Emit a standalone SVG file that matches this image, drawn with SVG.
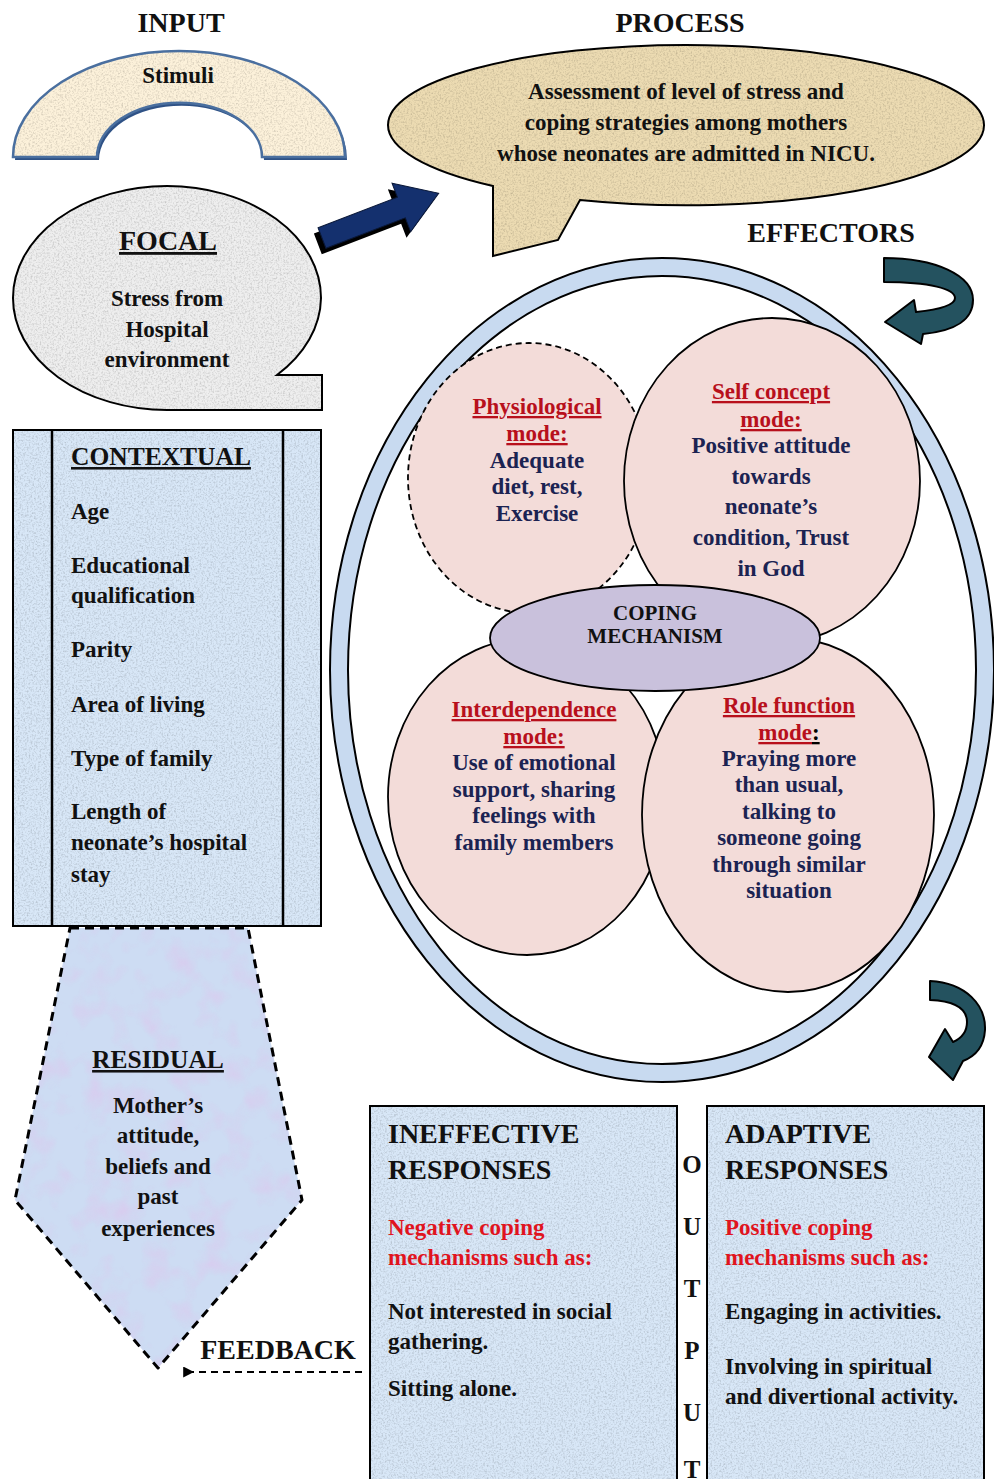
<svg xmlns="http://www.w3.org/2000/svg" width="994" height="1479" viewBox="0 0 994 1479">
  <style>
    .t { font-family: "Liberation Serif", "Times New Roman", serif; font-weight: bold; fill: #111; }
    .h { font-size: 28px; }
    .b { font-size: 23px; }
    .c { text-anchor: middle; }
    .red { fill: #b8101c; }
    .neg { fill: #e0141e; }
    .navy { fill: #1b2352; }
    .u { text-decoration: underline; }
    .edge { fill: none; stroke: #000; stroke-width: 2; }
    .mode { fill: #f3dcd9; stroke: #000; stroke-width: 1.8; }
    .pane { fill: #d8e7f7; }
    .turn { fill: #24525f; stroke: #000; stroke-width: 2; stroke-linejoin: round; }
  </style>
  <defs>
    <!-- fine speckle laid over a filled shape -->
    <filter id="grain" x="0" y="0" width="100%" height="100%" color-interpolation-filters="sRGB">
      <feTurbulence type="fractalNoise" baseFrequency="0.55" numOctaves="3" seed="4" result="noise"/>
      <feColorMatrix in="noise" type="matrix" values="0 0 0 0 0  0 0 0 0 0  0 0 0 0 0  0.36 0 0 0 -0.16" result="spots"/>
      <feComposite in="spots" in2="SourceGraphic" operator="in" result="clip"/>
      <feMerge><feMergeNode in="SourceGraphic"/><feMergeNode in="clip"/></feMerge>
    </filter>
    <!-- soft pink clouding for the residual panel -->
    <filter id="mottle" x="0" y="0" width="100%" height="100%" color-interpolation-filters="sRGB">
      <feTurbulence type="fractalNoise" baseFrequency="0.035" numOctaves="3" seed="9" result="noise"/>
      <feColorMatrix in="noise" type="matrix" values="0 0 0 0 0.86  0 0 0 0 0.78  0 0 0 0 0.93  1.6 0 0 0 -0.75" result="pink"/>
      <feComposite in="pink" in2="SourceGraphic" operator="in" result="clip"/>
      <feMerge><feMergeNode in="SourceGraphic"/><feMergeNode in="clip"/></feMerge>
    </filter>
    <marker id="head" viewBox="0 0 10 10" refX="2" refY="5" markerWidth="5.5" markerHeight="5.5" orient="auto">
      <path d="M10,0 L0,5 L10,10 Z" fill="#000"/>
    </marker>
  </defs>

  <rect width="994" height="1479" fill="#fff"/>

  <!-- column titles -->
  <text class="t h c" x="181" y="32">INPUT</text>
  <text class="t h c" x="680" y="32">PROCESS</text>
  <text class="t h c" x="831" y="242">EFFECTORS</text>

  <!-- stimuli arch -->
  <g id="stimuli">
    <path d="M15,160 A166,106 0 0 1 347,160 L264,160 A82,54 0 0 0 99,160 Z" fill="#2f5286"/>
    <path d="M13,157 A166,106 0 0 1 345,157 L262,157 A82,54 0 0 0 97,157 Z" fill="#fcf1da" filter="url(#grain)"/>
    <path d="M13,157 A166,106 0 0 1 345,157 L262,157 A82,54 0 0 0 97,157 Z" fill="none" stroke="#4a6f9f" stroke-width="2.5"/>
    <text class="t b c" x="178" y="83">Stimuli</text>
  </g>

  <!-- process speech bubble -->
  <g id="process">
    <path d="M493,186 A298,80 0 0 1 388,125 A298,80 0 0 1 984,125 A298,80 0 0 1 580,200 L558,240 L493,256 Z" fill="#ecdbb2" filter="url(#grain)"/>
    <path d="M493,186 A298,80 0 0 1 388,125 A298,80 0 0 1 984,125 A298,80 0 0 1 580,200 L558,240 L493,256 Z" class="edge"/>
    <text class="t b c" x="686" y="99">Assessment of level of stress and</text>
    <text class="t b c" x="686" y="130">coping strategies among mothers</text>
    <text class="t b c" x="686" y="161">whose neonates are admitted in NICU.</text>
  </g>

  <!-- focal callout -->
  <g id="focal">
    <path d="M277,375 L322,375 L322,410 L167,410 A154,112 0 0 1 13,298 A154,112 0 0 1 321,298 A154,112 0 0 1 277,375 Z" fill="#eeeeee" filter="url(#grain)"/>
    <path d="M277,375 L322,375 L322,410 L167,410 A154,112 0 0 1 13,298 A154,112 0 0 1 321,298 A154,112 0 0 1 277,375 Z" class="edge"/>
    <text class="t c u" font-size="28" x="168" y="250">FOCAL</text>
    <text class="t b c" x="167" y="306">Stress from</text>
    <text class="t b c" x="167" y="337">Hospital</text>
    <text class="t b c" x="167" y="367">environment</text>
  </g>

  <!-- contextual panel -->
  <g id="contextual">
    <rect x="13" y="430" width="308" height="496" class="pane" filter="url(#grain)"/>
    <rect x="13" y="430" width="308" height="496" class="edge"/>
    <line x1="52" y1="430" x2="52" y2="926" stroke="#000" stroke-width="2.5"/>
    <line x1="283" y1="430" x2="283" y2="926" stroke="#000" stroke-width="2.5"/>
    <text class="t u" font-size="25.5" x="71" y="465">CONTEXTUAL</text>
    <text class="t b" x="71" y="519">Age</text>
    <text class="t b" x="71" y="573">Educational</text>
    <text class="t b" x="71" y="603">qualification</text>
    <text class="t b" x="71" y="657">Parity</text>
    <text class="t b" x="71" y="712">Area of living</text>
    <text class="t b" x="71" y="766">Type of family</text>
    <text class="t b" x="71" y="819">Length of</text>
    <text class="t b" x="71" y="850">neonate’s hospital</text>
    <text class="t b" x="71" y="882">stay</text>
  </g>

  <!-- residual pentagon -->
  <g id="residual">
    <polygon points="70,928 248,928 302,1200 158,1368 15,1200" fill="#cddcf3" filter="url(#mottle)"/>
    <polygon points="70,928 248,928 302,1200 158,1368 15,1200" fill="none" stroke="#000" stroke-width="3" stroke-dasharray="9 6" stroke-linejoin="round"/>
    <text class="t c u" font-size="25.5" x="158" y="1068">RESIDUAL</text>
    <text class="t b c" x="158" y="1113">Mother’s</text>
    <text class="t b c" x="158" y="1143">attitude,</text>
    <text class="t b c" x="158" y="1174">beliefs and</text>
    <text class="t b c" x="158" y="1204">past</text>
    <text class="t b c" x="158" y="1236">experiences</text>
  </g>

  <!-- effectors ring -->
  <g id="effectors-ring">
    <ellipse cx="662" cy="670" rx="323" ry="403" fill="none" stroke="#c8daf0" stroke-width="18"/>
    <ellipse cx="662" cy="670" rx="332" ry="412" fill="none" stroke="#000" stroke-width="2"/>
    <ellipse cx="662" cy="670" rx="314" ry="394" fill="none" stroke="#000" stroke-width="2"/>
  </g>

  <!-- adaptive modes -->
  <g id="physiological">
    <ellipse cx="529" cy="478" rx="121" ry="135" fill="#f3dcd9" stroke="#000" stroke-width="1.8" stroke-dasharray="6 4"/>
  </g>
  <g id="self-concept">
    <ellipse cx="772" cy="481" rx="148" ry="163" class="mode"/>
  </g>
  <g id="interdependence">
    <ellipse cx="527" cy="797" rx="139" ry="158" class="mode"/>
  </g>
  <g id="role-function">
    <ellipse cx="788" cy="815" rx="146" ry="177" class="mode"/>
  </g>
  <g id="coping">
    <ellipse cx="655" cy="638" rx="165" ry="53" fill="#c9c1dc" stroke="#000" stroke-width="1.8"/>
    <text class="t c" font-size="21" x="655" y="620">COPING</text>
    <text class="t c" font-size="21" x="655" y="643">MECHANISM</text>
  </g>

  <!-- mode texts -->
  <g id="physiological-text">
    <text class="t b c red u" x="537" y="414">Physiological</text>
    <text class="t b c red u" x="537" y="441">mode:</text>
    <text class="t b c navy" x="537" y="468">Adequate</text>
    <text class="t b c navy" x="537" y="494">diet, rest,</text>
    <text class="t b c navy" x="537" y="521">Exercise</text>
  </g>
  <g id="self-concept-text">
    <text class="t b c red u" x="771" y="399">Self concept</text>
    <text class="t b c red u" x="771" y="427">mode:</text>
    <text class="t b c navy" x="771" y="453">Positive attitude</text>
    <text class="t b c navy" x="771" y="484">towards</text>
    <text class="t b c navy" x="771" y="514">neonate’s</text>
    <text class="t b c navy" x="771" y="545">condition, Trust</text>
    <text class="t b c navy" x="771" y="576">in God</text>
  </g>
  <g id="interdependence-text">
    <text class="t b c red u" x="534" y="717">Interdependence</text>
    <text class="t b c red u" x="534" y="744">mode:</text>
    <text class="t b c navy" x="534" y="770">Use of emotional</text>
    <text class="t b c navy" x="534" y="797">support, sharing</text>
    <text class="t b c navy" x="534" y="823">feelings with</text>
    <text class="t b c navy" x="534" y="850">family members</text>
  </g>
  <g id="role-function-text">
    <text class="t b c red u" x="789" y="713">Role function</text>
    <text class="t b c" x="789" y="740"><tspan class="red u">mode</tspan><tspan class="u" fill="#000">:</tspan></text>
    <text class="t b c navy" x="789" y="766">Praying more</text>
    <text class="t b c navy" x="789" y="792">than usual,</text>
    <text class="t b c navy" x="789" y="819">talking to</text>
    <text class="t b c navy" x="789" y="845">someone going</text>
    <text class="t b c navy" x="789" y="872">through similar</text>
    <text class="t b c navy" x="789" y="898">situation</text>
  </g>

  <!-- output panels -->
  <g id="ineffective">
    <rect x="370" y="1106" width="307" height="400" class="pane" filter="url(#grain)"/>
    <rect x="370" y="1106" width="307" height="400" class="edge"/>
    <text class="t h" x="388" y="1143">INEFFECTIVE</text>
    <text class="t h" x="388" y="1179">RESPONSES</text>
    <text class="t b neg" x="388" y="1235">Negative coping</text>
    <text class="t b neg" x="388" y="1265">mechanisms such as:</text>
    <text class="t b" x="388" y="1319">Not interested in social</text>
    <text class="t b" x="388" y="1349">gathering.</text>
    <text class="t b" x="388" y="1396">Sitting alone.</text>
  </g>
  <g id="adaptive">
    <rect x="707" y="1106" width="277" height="400" class="pane" filter="url(#grain)"/>
    <rect x="707" y="1106" width="277" height="400" class="edge"/>
    <text class="t h" x="725" y="1143">ADAPTIVE</text>
    <text class="t h" x="725" y="1179">RESPONSES</text>
    <text class="t b neg" x="725" y="1235">Positive coping</text>
    <text class="t b neg" x="725" y="1265">mechanisms such as:</text>
    <text class="t b" x="725" y="1319">Engaging in activities.</text>
    <text class="t b" x="725" y="1374">Involving in spiritual</text>
    <text class="t b" x="725" y="1404">and divertional activity.</text>
  </g>
  <g id="output-label">
    <text class="t c" font-size="25" x="692" y="1173">O</text>
    <text class="t c" font-size="25" x="692" y="1235">U</text>
    <text class="t c" font-size="25" x="692" y="1297">T</text>
    <text class="t c" font-size="25" x="692" y="1359">P</text>
    <text class="t c" font-size="25" x="692" y="1421">U</text>
    <text class="t c" font-size="25" x="692" y="1478">T</text>
  </g>

  <text class="t h c" x="278" y="1359">FEEDBACK</text>

  <!-- connectors -->
  <g id="connectors">
    <!-- input to process block arrow -->
    <g transform="translate(322 238) rotate(-21)">
      <path d="M-6,-7 L79,-7 L79,-22 L119,4 L79,30 L79,15 L-6,15 Z" fill="#000"/>
      <path d="M0,-11 L85,-11 L85,-26 L125,0 L85,26 L85,11 L0,11 Z" fill="#14306e" stroke="#0a1838" stroke-width="1"/>
    </g>
    <!-- curved arrow into the effectors -->
    <path class="turn" d="M884,258 C935,258 973,275 973,300 C973,319 956,331 923,334 L921,344 L885,322 L914,300 L916,312 C944,309 955,304 955,298 C955,289 930,282 884,282 Z"/>
    <!-- curved arrow out to the responses -->
    <path class="turn" d="M930,981 C966,983 986,1005 985,1030 C984,1046 976,1056 963,1061 L953,1080 L929,1057 L945,1029 L953,1042 C962,1038 967,1032 967,1022 C967,1009 955,1001 930,1000 Z"/>
    <!-- feedback to residual -->
    <line x1="362" y1="1372" x2="192" y2="1372" stroke="#000" stroke-width="2" stroke-dasharray="7 5" marker-end="url(#head)"/>
  </g>
</svg>
